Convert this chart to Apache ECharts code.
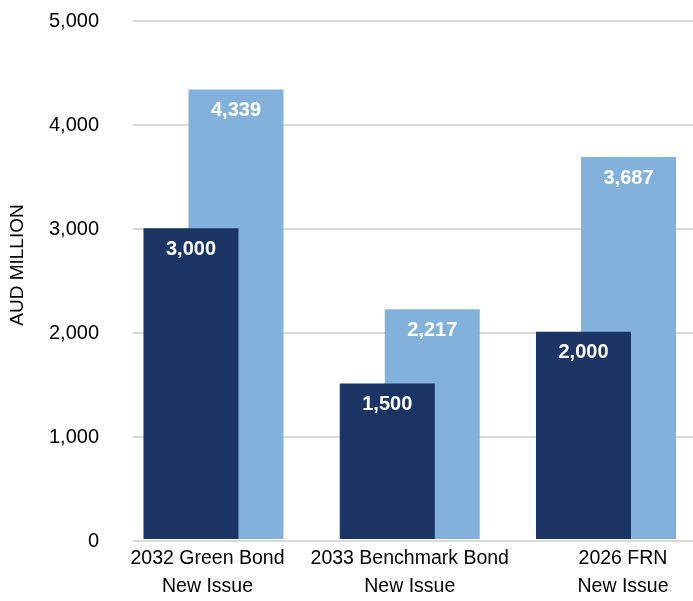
<!DOCTYPE html>
<html>
<head>
<meta charset="utf-8">
<script src="https://cdn.jsdelivr.net/npm/echarts@6/dist/echarts.min.js"></script>
<style>
  html, body { margin: 0; padding: 0; background: #fff; }
  #chart { width: 693px; height: 601px; }
</style>
</head>
<body>
<div id="chart"></div>
<script>
const categories = ["2032 Green Bond\nNew Issue", "2033 Benchmark Bond\nNew Issue", "2026 FRN\nNew Issue"];
const issuedValues = [3000, 1500, 2000];
const bidValues = [4339, 2217, 3687];
const yTicks = [0, 1000, 2000, 3000, 4000, 5000];

const textFont = "'Liberation Sans Narrow', 'Arial Narrow', 'Liberation Sans', sans-serif";
const fmt = (v) => Number(v).toLocaleString("en-US");

// Excel nudges the category labels a little off the bar centres
const labelStyles = ["a", "b", "c"];

const chart = echarts.init(document.getElementById("chart"));

const barLabel = {
  show: true,
  position: "insideTop",
  distance: 11,
  color: "#fff",
  fontWeight: "bold",
  fontSize: 20,
  fontFamily: "'Liberation Sans', Arial, sans-serif",
  formatter: (p) => fmt(p.value),
};

chart.setOption({
  animation: false,
  grid: [
    { left: 127, right: 0, top: 21, bottom: 60 },
    // bar grid: first and last group centres sit on the grid edges
    { left: 213.5, right: 87, top: 21, bottom: 60 },
  ],
  xAxis: [
    { type: "category", gridIndex: 0, data: categories, show: false },
    {
      type: "category",
      gridIndex: 1,
      data: categories,
      boundaryGap: false,
      axisLine: { show: false },
      axisTick: { show: false },
      axisLabel: {
        color: "#000",
        fontSize: 19.5,
        lineHeight: 28,
        margin: 6,
        fontFamily: textFont,
        interval: 0,
        formatter: (v, i) =>
          v.split("\n").map((line) => `{${labelStyles[i]}|${line}}`).join("\n"),
        rich: {
          a: { fontSize: 19.5, lineHeight: 28, fontFamily: textFont, color: "#000", padding: [0, 12, 0, 0] },
          b: { fontSize: 19.5, lineHeight: 28, fontFamily: textFont, color: "#000", padding: [0, 0, 0, 0] },
          c: { fontSize: 19.5, lineHeight: 28, fontFamily: textFont, color: "#000", padding: [0, 0, 0, 34] },
        },
      },
    },
  ],
  yAxis: [
    {
      type: "value",
      gridIndex: 0,
      min: yTicks[0],
      max: yTicks[yTicks.length - 1],
      interval: 1000,
      name: "AUD MILLION",
      nameLocation: "middle",
      nameGap: 106,
      nameTextStyle: {
        color: "#000",
        fontSize: 19,
        fontFamily: textFont,
        padding: [0, 0, 0, 32],
      },
      axisLine: { show: false },
      axisTick: { show: false },
      axisLabel: {
        color: "#000",
        fontSize: 20,
        margin: 34,
        fontFamily: textFont,
        formatter: fmt,
      },
      splitLine: { lineStyle: { color: "#d9d9d9", width: 2 } },
    },
    {
      type: "value",
      gridIndex: 1,
      min: yTicks[0],
      max: yTicks[yTicks.length - 1],
      interval: 1000,
      show: false,
      splitLine: { show: false },
    },
  ],
  series: [
    {
      name: "Issued",
      type: "bar",
      xAxisIndex: 1,
      yAxisIndex: 1,
      data: issuedValues,
      barWidth: 95,
      barGap: "-52.6%",
      clip: false,
      z: 3,
      itemStyle: { color: "#1a3563" },
      label: barLabel,
    },
    {
      name: "Bids",
      type: "bar",
      xAxisIndex: 1,
      yAxisIndex: 1,
      data: bidValues,
      barWidth: 95,
      clip: false,
      z: 2,
      itemStyle: { color: "#82b2dc" },
      label: barLabel,
    },
  ],
});

window.addEventListener("resize", () => chart.resize());
</script>
</body>
</html>
